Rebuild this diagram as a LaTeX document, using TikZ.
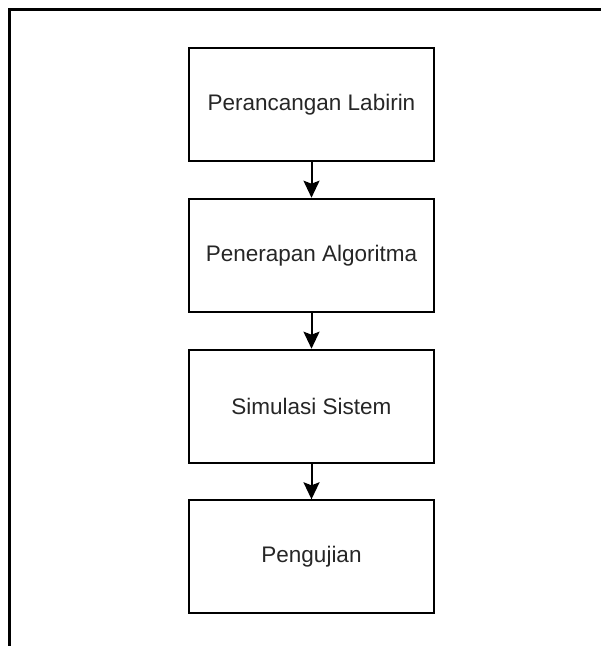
\documentclass[tikz,border=0pt]{standalone}
\usepackage{fontspec}
\setmainfont{Liberation Sans}
\usetikzlibrary{arrows.meta}
\begin{document}
\begin{tikzpicture}[x=1pt,y=-1pt,
  stepbox/.style={draw=black,line width=2pt,minimum width=245pt,minimum height=113pt,inner sep=0pt,
    font=\fontsize{22.5}{27}\selectfont,text=black!85},
  flow/.style={draw=black,line width=2pt,-{Stealth[length=17pt,width=16pt,inset=3pt]}}]
\useasboundingbox (0,0) rectangle (601,646);
\draw[line width=2.2pt] (9.5,646) coordinate (fb) -- (9.5,9.5) coordinate (fc) -- (601,9.5) coordinate (fr);
\node[stepbox] (a) at (311.5,104.2) {Perancangan Labirin};
\node[stepbox] (b) at (311.5,255.2) {Penerapan Algoritma};
\node[stepbox] (c) at (311.5,406.2) {Simulasi Sistem};
\node[stepbox] (d) at (311.5,556.8) {Pengujian};
\draw[flow] (a) -- (b);
\draw[flow] (b) -- (c);
\draw[flow] (c) -- (d);
\end{tikzpicture}
\end{document}
